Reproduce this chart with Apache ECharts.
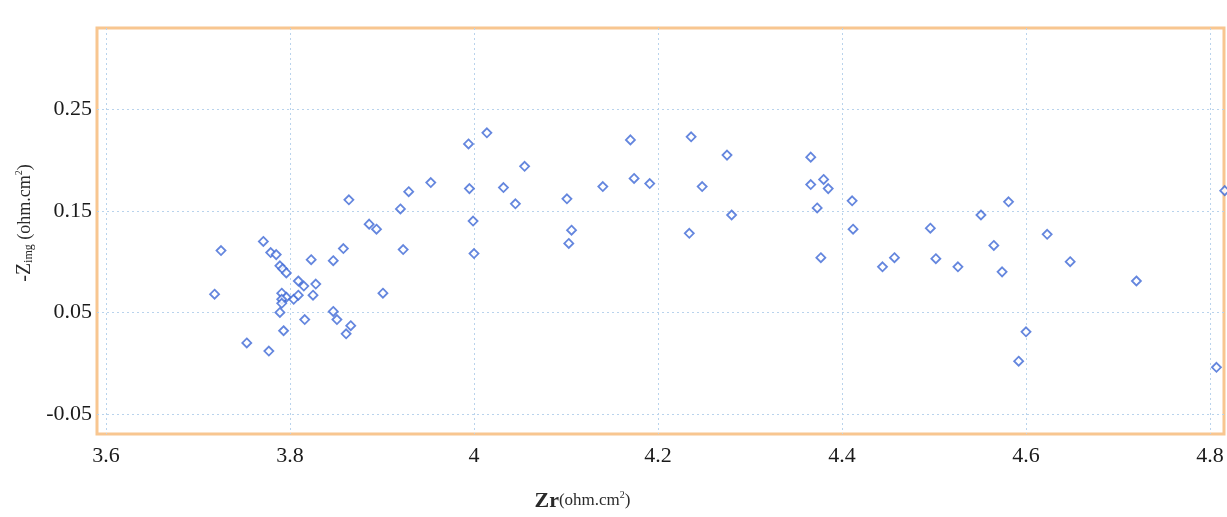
<!DOCTYPE html>
<html>
<head>
<meta charset="utf-8">
<script src="https://cdn.jsdelivr.net/npm/echarts@6/dist/echarts.min.js"></script>
<style>
html,body{margin:0;padding:0;background:#fff;}
#chart{width:1227px;height:517px;}
</style>
</head>
<body>
<div id="chart"></div>
<script>
// Zr (ohm.cm^2) values
const zr = [
  3.725, 3.718, 3.771, 3.779, 3.785, 3.789, 3.792, 3.796, 3.809, 3.815,
  3.828, 3.791, 3.796, 3.791, 3.804, 3.809, 3.791, 3.825, 3.789, 3.823,
  3.847, 3.858, 3.816, 3.847, 3.851, 3.793, 3.753, 3.777, 3.866, 3.861,
  3.901, 3.886, 3.894, 3.864, 3.920, 3.929, 3.923, 3.953,
  3.994, 4.014, 3.995, 3.999, 4.000, 4.032, 4.055, 4.045, 4.101, 4.106,
  4.103, 4.140, 4.170, 4.174, 4.191, 4.236, 4.248, 4.234, 4.275, 4.280,
  4.366, 4.366, 4.380, 4.385, 4.373, 4.377, 4.411, 4.412, 4.444, 4.457,
  4.496, 4.502, 4.526, 4.551, 4.565, 4.574, 4.581, 4.600, 4.592, 4.623,
  4.648, 4.720, 4.807, 4.816
];
// -Zimg (ohm.cm^2) values
const zimg = [
  0.111, 0.068, 0.120, 0.109, 0.107, 0.096, 0.093, 0.089, 0.081, 0.076,
  0.078, 0.069, 0.065, 0.063, 0.063, 0.067, 0.059, 0.067, 0.050, 0.102,
  0.101, 0.113, 0.043, 0.051, 0.043, 0.032, 0.020, 0.012, 0.037, 0.029,
  0.069, 0.137, 0.132, 0.161, 0.152, 0.169, 0.112, 0.178,
  0.216, 0.227, 0.172, 0.140, 0.108, 0.173, 0.194, 0.157, 0.162, 0.131,
  0.118, 0.174, 0.220, 0.182, 0.177, 0.223, 0.174, 0.128, 0.205, 0.146,
  0.203, 0.176, 0.181, 0.172, 0.153, 0.104, 0.160, 0.132, 0.095, 0.104,
  0.133, 0.103, 0.095, 0.146, 0.116, 0.090, 0.159, 0.031, 0.002, 0.127,
  0.100, 0.081, -0.004, 0.170
];
const xTicks = [3.6, 3.8, 4, 4.2, 4.4, 4.6, 4.8];
const yTicks = [-0.05, 0.05, 0.15, 0.25];

const points = zr.map((x, i) => [x, zimg[i]]);

const chart = echarts.init(document.getElementById('chart'), null, {renderer: 'canvas'});
const gridLine = {show: true, lineStyle: {color: '#b9d3ec', width: 1, type: [2, 3]}};
chart.setOption({
  animation: false,
  backgroundColor: '#ffffff',
  grid: {
    left: 97, right: 3, top: 28, bottom: 81,
    show: true, borderColor: '#f8c690', borderWidth: 3, backgroundColor: 'transparent'
  },
  xAxis: {
    type: 'value',
    min: 3.5902, max: 4.8152,
    axisLine: {show: false},
    axisTick: {show: false, customValues: xTicks},
    axisLabel: {
      customValues: xTicks, margin: 11, color: '#1a1a1a',
      fontFamily: 'Liberation Serif', fontSize: 22
    },
    splitLine: gridLine,
    name: '{z|Zr}{u|(ohm.cm}{sup|2}{u|)}',
    nameLocation: 'middle',
    nameGap: 56,
    nameTextStyle: {
      padding: [0, 156, 0, 0],
      rich: {
        z: {fontFamily: 'Liberation Serif', fontSize: 22, fontWeight: 'bold', color: '#2a2a2a'},
        u: {fontFamily: 'Liberation Serif', fontSize: 17, color: '#2a2a2a'},
        sup: {fontFamily: 'Liberation Serif', fontSize: 10, color: '#2a2a2a', verticalAlign: 'top', padding: [0, 0, 9, 0]}
      }
    }
  },
  yAxis: {
    type: 'value',
    min: -0.0697, max: 0.3302,
    axisLine: {show: false},
    axisTick: {show: false, customValues: yTicks},
    axisLabel: {
      customValues: yTicks, margin: 5, color: '#1a1a1a',
      fontFamily: 'Liberation Serif', fontSize: 22
    },
    splitLine: gridLine,
    name: '{z|-Z}{s|img}{u| (ohm.cm}{sup|2}{u|)}',
    nameLocation: 'middle',
    nameGap: 54,
    nameTextStyle: {
      padding: [0, 0, 0, 16],
      rich: {
        z: {fontFamily: 'Liberation Serif', fontSize: 20, color: '#2a2a2a'},
        s: {fontFamily: 'Liberation Serif', fontSize: 12, color: '#2a2a2a', verticalAlign: 'bottom', padding: [9, 0, 0, 0]},
        u: {fontFamily: 'Liberation Serif', fontSize: 18, color: '#2a2a2a'},
        sup: {fontFamily: 'Liberation Serif', fontSize: 10, color: '#2a2a2a', verticalAlign: 'top', padding: [0, 0, 9, 0]}
      }
    }
  },
  series: [{
    type: 'scatter',
    data: points,
    clip: false,
    symbol: 'diamond',
    symbolSize: 9,
    itemStyle: {color: '#ffffff', borderColor: '#3d68d6', borderWidth: 1.8}
  }]
});
</script>
</body>
</html>
